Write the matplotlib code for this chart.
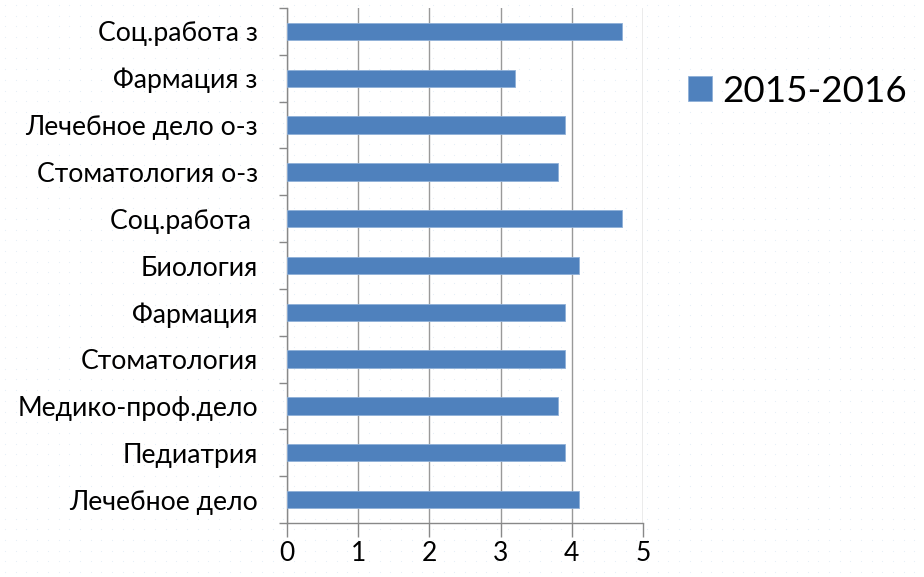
import matplotlib
matplotlib.use("Agg")
import matplotlib.pyplot as plt
import numpy as np

categories = ["Лечебное дело", "Педиатрия", "Медико-проф.дело", "Стоматология",
              "Фармация", "Биология", "Соц.работа ", "Стоматология о-з",
              "Лечебное дело о-з", "Фармация з", "Соц.работа з"]
values = [4.1, 3.9, 3.8, 3.9, 3.9, 4.1, 4.7, 3.8, 3.9, 3.2, 4.7]
series_name = "2015-2016"
xticks = [0, 1, 2, 3, 4, 5]

plt.rcParams['font.family'] = ['Lato', 'Open Sans', 'DejaVu Sans']

fig = plt.figure(figsize=(9.24, 5.77), dpi=100)
fig.patch.set_facecolor('white')

# subtle dotted background texture
bg = fig.add_axes([0, 0, 1, 1], zorder=-10)
bg.set_xlim(0, 924); bg.set_ylim(0, 577)
gx, gy = np.meshgrid(np.arange(5, 924, 10.7), np.arange(5, 577, 10.7))
bg.scatter(gx.ravel(), gy.ravel(), s=0.6, color='#e3edf6', linewidths=0)
bg.axis('off')

ax = fig.add_axes([287/924, 1-523/577, (643-287)/924, (523-8)/577])
ax.patch.set_alpha(0)
y = np.arange(len(categories))
ax.barh(y, values, height=0.37, color='#4F81BD', edgecolor='#8fb0d8', linewidth=0.6,
        label=series_name, zorder=3)
ax.set_xlim(0, 5)
ax.set_ylim(-0.5, len(categories)-0.5)
ax.set_xticks(xticks)
ax.set_xticklabels([str(t) for t in xticks], fontsize=19)
ax.set_yticks(y)
ax.set_yticklabels(categories, fontsize=19.2)
ax.set_yticks(np.arange(-0.5, len(categories)), minor=True)
ax.tick_params(axis='y', which='major', length=0, pad=21)
ax.tick_params(axis='y', which='minor', length=6, color='#888888', width=1)
ax.tick_params(axis='x', which='major', length=10, color='#888888', width=1, direction='out', pad=3)
ax.grid(axis='x', color='#999999', linewidth=1, zorder=0)
for s in ['top', 'right']:
    ax.spines[s].set_visible(False)
for s in ['left', 'bottom']:
    ax.spines[s].set_color('#888888')
    ax.spines[s].set_linewidth(1)

leg = fig.legend(loc='center left', bbox_to_anchor=(688/924, 1-91/577), frameon=False,
                 fontsize=26.5, handlelength=0.66, handleheight=0.66, handletextpad=0.28,
                 borderaxespad=0, borderpad=0)

fig.savefig('out.png', dpi=100, facecolor='white')
